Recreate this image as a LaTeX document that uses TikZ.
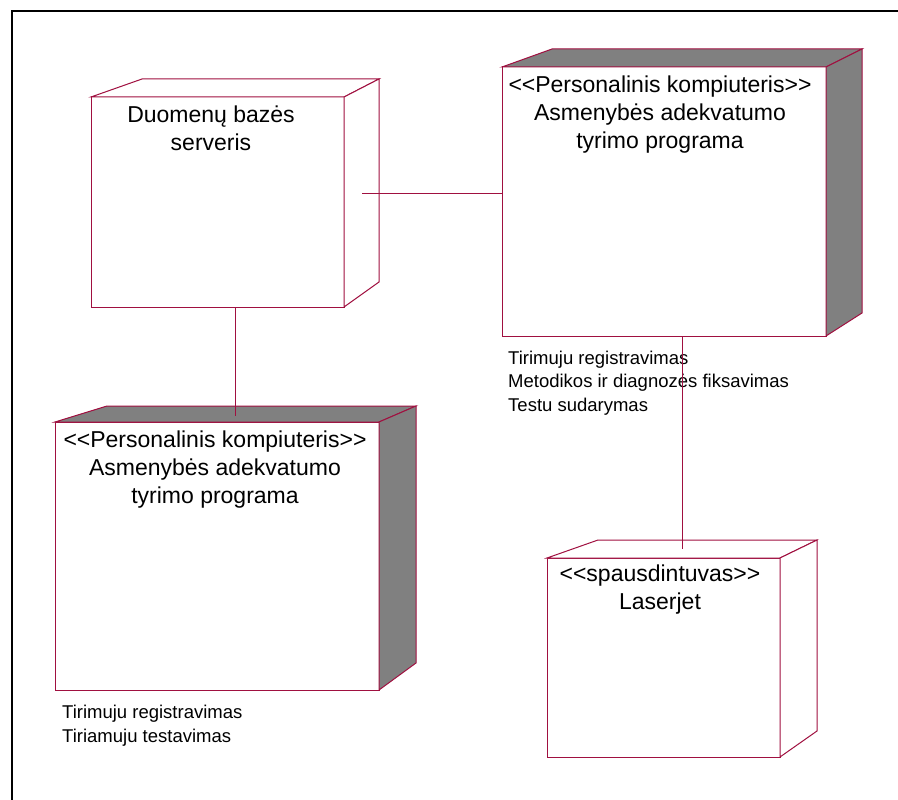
\documentclass[tikz,border=0pt]{standalone}
\usepackage{fontspec}
\setmainfont{Liberation Sans}
\usetikzlibrary{calc}
\definecolor{nodeline}{RGB}{160,16,64}
\definecolor{shade}{RGB}{128,128,128}
\newcommand\lguil{<\kern0pt<}
\newcommand\rguil{>\kern0pt>}
\begin{document}
\begin{tikzpicture}[x=1pt,y=-1pt,
  face/.style={draw=nodeline,line width=1pt,fill=white,inner sep=0pt,outer sep=0pt,anchor=north west},
  edge/.style={draw=nodeline,line width=1pt,line join=miter},
  dark/.style={edge,fill=shade},
  light/.style={edge,fill=white},
  link/.style={draw=nodeline,line width=0.8pt},
  title/.style={font=\fontsize{23}{28}\selectfont,align=center,anchor=base,inner sep=0pt},
  note/.style={font=\fontsize{18.5}{23.3}\selectfont,align=left,anchor=base west,inner sep=0pt}]
\useasboundingbox (0,0) rectangle (898,800);
\fill[white] (0,0) rectangle (898,800);
% frame
\draw[line width=2pt] (898,11) -- (12,11) -- (12,800);

% database server
\node[face,minimum width=253pt,minimum height=210pt] (srv) at (91,97) {};
\path[light] (srv.north west) -- (142,79) -- (379,79) -- (srv.north east) -- cycle;
\path[light] (srv.north east) -- (379,79) -- (379,282) -- (srv.south east) -- cycle;
% text nodes are placed by the baseline of their last line
\node[title,font=\fontsize{23}{27.3}\selectfont] (srvt) at (211,150) {Duomenų bazės\\serveris};

% personal computer, upper right
\node[face,minimum width=324pt,minimum height=269pt] (pca) at (502,67) {};
\path[dark] (pca.north west) -- (552,49) -- (862,49) -- (pca.north east) -- cycle;
\path[dark] (pca.north east) -- (862,49) -- (862,313) -- (pca.south east) -- cycle;
\node[title] (pcat) at (660,148.3) {\lguil Personalinis kompiuteris\rguil\\Asmenybės adekvatumo\\tyrimo programa};
\node[note] (pcan) at (508,411) {Tirimuju registravimas\\Metodikos ir diagnozės fiksavimas\\Testu sudarymas};

% personal computer, lower left
\node[face,minimum width=324pt,minimum height=268pt] (pcb) at (55,422) {};
\path[dark] (pcb.north west) -- (107,406) -- (416,406) -- (pcb.north east) -- cycle;
\path[dark] (pcb.north east) -- (416,406) -- (416,663) -- (pcb.south east) -- cycle;
\node[title] (pcbt) at (215,503.3) {\lguil Personalinis kompiuteris\rguil\\Asmenybės adekvatumo\\tyrimo programa};
\node[note,font=\fontsize{18.5}{24}\selectfont] (pcbn) at (62,742.3) {Tirimuju registravimas\\Tiriamuju testavimas};

% printer
\node[face,minimum width=233pt,minimum height=199pt] (prn) at (547,558) {};
\path[light] (prn.north west) -- (598,540) -- (817,540) -- (prn.north east) -- cycle;
\path[light] (prn.north east) -- (817,540) -- (817,731) -- (prn.south east) -- cycle;
\node[title,font=\fontsize{23}{27.6}\selectfont] (prnt) at (660,609.3) {\lguil spausdintuvas\rguil\\Laserjet};

% connections
\coordinate (srvside) at (362,193);
\coordinate (pcbtop) at (235,416);
\coordinate (prntop) at (682,549);
\draw[link] (srvside) -- (srvside -| pca.west);
\draw[link] (pcbtop |- srv.south) -- (pcbtop);
\draw[link] (prntop |- pca.south) -- (prntop);
\end{tikzpicture}
\end{document}
